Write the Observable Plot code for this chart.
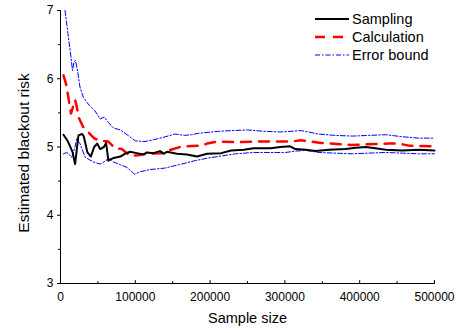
<!DOCTYPE html>
<html>
<head>
<meta charset="utf-8">
<script src="https://cdn.jsdelivr.net/npm/d3@7"></script>
<script src="https://cdn.jsdelivr.net/npm/@observablehq/plot@0.6"></script>
<style>
  html, body { margin: 0; padding: 0; background: #fff; }
  #wrap { position: relative; width: 457px; height: 333px; font-family: "Liberation Sans", Arial, sans-serif; }
  #legend { position: absolute; left: 315px; top: 9.5px; font-size: 14.5px; color: #000; }
  #legend .row { display: flex; align-items: center; height: 18px; }
  #legend svg { margin-right: 3px; }
</style>
</head>
<body>
<div id="wrap"><div id="legend"></div></div>
<script>
// ---- data ----
const xTicks = [0, 100000, 200000, 300000, 400000, 500000];
const xMinorTicks = [50000, 150000, 250000, 350000, 450000];
const yTicks = [3, 4, 5, 6, 7];
const yMinorTicks = [3.5, 4.5, 5.5, 6.5];

const samplingX = [4000, 10000, 16000, 19500, 24000, 29000, 31000, 36000, 40500, 45000, 49000, 53000, 58000, 61000, 64000, 71000, 80000, 86000, 93000, 102000, 111000, 115500, 124000, 133000, 137700, 142300, 155700, 169000, 182500, 196000, 215000, 228000, 245000, 258000, 272000, 281000, 294000, 307000, 314000, 328000, 341000, 359000, 381000, 395000, 408000, 421000, 435000, 457000, 479000, 500000];
const samplingY = [5.18, 5.08, 4.93, 4.75, 5.17, 5.19, 5.16, 4.92, 4.86, 5.00, 5.05, 4.97, 5.00, 5.06, 4.80, 4.84, 4.86, 4.90, 4.93, 4.91, 4.89, 4.92, 4.91, 4.94, 4.90, 4.93, 4.90, 4.89, 4.86, 4.90, 4.91, 4.95, 4.96, 4.98, 4.98, 4.98, 5.00, 5.01, 4.97, 4.96, 4.94, 4.96, 4.97, 4.99, 5.00, 4.98, 4.96, 4.95, 4.96, 4.95];

const calcX = [4000, 7500, 10000, 14000, 19500, 22000, 24000, 30500, 39500, 46000, 55000, 64000, 73000, 82000, 93000, 104000, 115000, 135000, 142000, 160000, 169000, 189000, 196000, 209000, 236000, 263000, 294000, 310000, 321000, 334000, 348000, 361000, 374000, 388000, 412000, 439000, 452000, 466000, 493000, 500000];
const calcY = [6.05, 5.92, 5.76, 5.49, 5.69, 5.58, 5.44, 5.29, 5.19, 5.12, 5.09, 5.08, 4.98, 4.97, 4.87, 4.88, 4.90, 4.91, 4.94, 5.00, 5.01, 5.02, 5.05, 5.08, 5.07, 5.08, 5.08, 5.08, 5.10, 5.08, 5.06, 5.05, 5.04, 5.03, 5.04, 5.05, 5.05, 5.02, 5.01, 5.01];

const upperX = [6000, 10000, 14000, 16000, 18000, 20000, 23000, 26000, 30500, 37000, 46000, 53000, 58500, 64000, 70500, 80000, 86500, 100000, 113000, 126000, 137000, 153000, 166000, 175000, 184000, 211000, 228000, 250000, 272000, 294000, 322000, 345000, 367000, 390000, 412000, 435000, 457000, 479000, 500000];
const upperY = [7.00, 6.66, 6.32, 6.12, 6.24, 6.27, 6.10, 5.88, 5.73, 5.63, 5.53, 5.41, 5.44, 5.36, 5.28, 5.25, 5.20, 5.09, 5.08, 5.11, 5.14, 5.19, 5.17, 5.18, 5.20, 5.23, 5.24, 5.25, 5.23, 5.22, 5.24, 5.19, 5.17, 5.16, 5.17, 5.18, 5.15, 5.13, 5.13];

const lowerX = [4000, 8000, 11000, 15000, 19400, 21700, 26000, 33000, 44000, 53000, 61000, 64000, 71000, 80000, 89000, 99000, 107000, 120000, 139000, 162000, 180000, 198000, 216000, 234000, 258000, 281000, 301000, 314000, 328000, 345000, 367000, 390000, 412000, 435000, 457000, 479000, 500000];
const lowerY = [4.90, 4.92, 4.90, 4.85, 5.00, 5.12, 5.05, 4.85, 4.78, 4.75, 4.80, 4.85, 4.78, 4.74, 4.70, 4.60, 4.64, 4.67, 4.69, 4.75, 4.80, 4.84, 4.87, 4.90, 4.92, 4.92, 4.92, 4.94, 4.95, 4.92, 4.91, 4.90, 4.91, 4.92, 4.91, 4.90, 4.90];

const seriesNames = ["Sampling", "Calculation", "Error bound"];

// ---- styles ----
const styles = {
  "Sampling": {stroke: "#000000", strokeWidth: 2, dash: null},
  "Calculation": {stroke: "#ff0000", strokeWidth: 2.5, dash: "10,8"},
  "Error bound": {stroke: "#0000ff", strokeWidth: 1, dash: "5,2,1.5,2"}
};

const toRows = (xs, ys) => xs.map((x, i) => ({x, y: ys[i]}));
const sampling = toRows(samplingX, samplingY);
const calc = toRows(calcX, calcY);
const upper = toRows(upperX, upperY);
const lower = toRows(lowerX, lowerY);

const tickShape = (dir) => ({draw(ctx, l) { ctx.moveTo(0, 0); ctx.lineTo(0, dir * l); }});

const lineOpts = (name) => ({
  x: "x", y: "y",
  stroke: styles[name].stroke,
  strokeWidth: styles[name].strokeWidth,
  strokeDasharray: styles[name].dash,
  strokeLinejoin: "round",
  curve: "linear"
});

const chart = Plot.plot({
  width: 457,
  height: 333,
  marginLeft: 60,
  marginRight: 23,
  marginTop: 10,
  marginBottom: 50,
  style: {fontFamily: "'Liberation Sans', Arial, sans-serif", fontSize: "12px", color: "#000", background: "#fff"},
  x: {domain: [0, 500000]},
  y: {domain: [3, 7]},
  marks: [
    Plot.line(upper, lineOpts("Error bound")),
    Plot.line(lower, lineOpts("Error bound")),
    Plot.line(calc, lineOpts("Calculation")),
    Plot.line(sampling, lineOpts("Sampling")),
    Plot.ruleX([0], {stroke: "#000", strokeWidth: 1}),
    Plot.ruleY([3], {stroke: "#000", strokeWidth: 1}),
    Plot.axisY({ticks: yTicks, tickSize: 3, tickPadding: 4, label: null, tickFormat: d3.format("d"), fontSize: 12}),
    Plot.axisY({ticks: yMinorTicks, tickSize: 2, label: null, tickFormat: () => ""}),
    Plot.axisX({ticks: xTicks, tickSize: 0, tickPadding: 9, label: null, tickFormat: d3.format("d"), fontSize: 12}),
    Plot.vector(xTicks, {x: d => d, y: 3, length: 3, rotate: 0, anchor: "start", shape: tickShape(-1), stroke: "#000", strokeWidth: 1}),
    Plot.vector(xMinorTicks, {x: d => d, y: 3, length: 2, rotate: 0, anchor: "start", shape: tickShape(-1), stroke: "#000", strokeWidth: 1}),
    Plot.text(["Sample size"], {frameAnchor: "bottom", lineAnchor: "middle", textAnchor: "middle", dy: 35, fontSize: 14.5, text: d => d}),
    Plot.text(["Estimated blackout risk"], {frameAnchor: "left", textAnchor: "middle", lineAnchor: "middle", dx: -36, dy: 6, rotate: -90, fontSize: 15.5, text: d => d})
  ]
});
document.getElementById("wrap").prepend(chart);

// ---- legend ----
const legend = d3.select("#legend");
for (const name of seriesNames) {
  const st = styles[name];
  const row = legend.append("div").attr("class", "row");
  const svg = row.append("svg").attr("width", 34).attr("height", 18);
  svg.append("line").attr("x1", 0).attr("x2", 34).attr("y1", 9).attr("y2", 9)
    .attr("stroke", st.stroke).attr("stroke-width", st.strokeWidth)
    .attr("stroke-dasharray", st.dash);
  row.append("span").text(name);
}
</script>
</body>
</html>
